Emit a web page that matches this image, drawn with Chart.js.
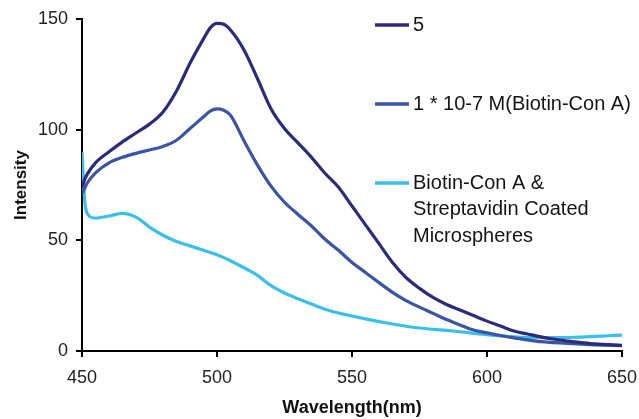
<!DOCTYPE html>
<html>
<head>
<meta charset="utf-8">
<script src="https://cdn.jsdelivr.net/npm/chart.js@4/dist/chart.umd.min.js"></script>
<style>
  html, body { margin: 0; padding: 0; background: #fff; }
  #wrap { width: 639px; height: 419px; }
</style>
</head>
<body>
<div id="wrap"><canvas id="spectrum"></canvas></div>
<script>
// wavelength (nm)
const wavelengths = [450, 451, 452, 455, 460, 465, 470, 475, 480, 485, 490, 495, 497.5, 500, 502.5, 505, 510, 515, 520,
  525, 530, 535, 540, 545, 550, 555, 560, 565, 570, 575, 580, 585, 590, 595, 600, 605, 610, 615, 620,
  625, 630, 635, 640, 645, 650];

// intensity
const series5 = [74, 77.5, 80, 85, 90, 94.5, 98.5, 102.5, 108, 117.5, 130, 141, 146, 148, 147.6, 145, 136, 123, 109.5,
  100.5, 94, 87.5, 80.3, 74, 65.5, 57, 48.5, 40, 33.2, 28.3, 24.2, 21, 18.5, 16, 13.5, 11.3, 9, 7.7, 6.4,
  5.3, 4.5, 3.8, 3.2, 2.9, 2.5];
const seriesBiotin = [71, 73.5, 76, 80.5, 85, 87.5, 89.3, 90.8, 92.4, 95.2, 100.5, 105.8, 108.4, 109.4, 108.8, 106.5, 95, 84, 74.5,
  67.2, 61.7, 56.5, 50.5, 45.5, 40, 35.5, 30.9, 26.5, 22.8, 19.8, 17, 14.2, 11.8, 9.5, 8.2, 7, 5.9, 5, 4.2,
  3.8, 3.4, 3.1, 2.8, 2.6, 2.4];
const seriesMicro = [90, 68, 62, 60, 61, 62.2, 60.5, 56, 52.3, 49.5, 47.5, 45.5, 44.5, 43.5, 42.2, 40.8, 37.6, 34.2, 29.5,
  26.2, 23.6, 21.2, 18.9, 17.2, 15.8, 14.5, 13.3, 12.2, 11.2, 10.4, 9.8, 9.3, 8.7, 8, 7.4, 6.8, 6.4, 6.1, 6,
  6, 6.1, 6.3, 6.6, 6.9, 7.2];

const seriesLabels = [["5"], ["1 * 10-7 M(Biotin-Con A)"], ["Biotin-Con A &", "Streptavidin Coated", "Microspheres"]];
const seriesColors = ["#2b2b79", "#3c54a4", "#38c0eb"];

const xTicks = [450, 500, 550, 600, 650];
const yTicks = [0, 50, 100, 150];

function toPoints(values) {
  return values.map(function (v, i) {
    return { x: wavelengths[i], y: v };
  });
}

const allSeries = [series5, seriesBiotin, seriesMicro];

// legend drawn inside the plot, to the right
const insideLegend = {
  id: "insideLegend",
  afterDraw(chart) {
    const ctx = chart.ctx;
    const rowTops = [25, 104, 183];
    ctx.save();
    ctx.font = "20px 'Liberation Sans', Arial, sans-serif";
    ctx.textBaseline = "middle";
    ctx.fillStyle = "#141414";
    for (let i = 0; i < seriesLabels.length; i++) {
      ctx.strokeStyle = seriesColors[i];
      ctx.lineWidth = 3.5;
      ctx.beginPath();
      ctx.moveTo(375, rowTops[i]);
      ctx.lineTo(409, rowTops[i]);
      ctx.stroke();
      seriesLabels[i].forEach(function (line, j) {
        ctx.fillText(line, 413, rowTops[i] + j * 26.5);
      });
    }
    ctx.restore();
  },
};

const ctx = document.getElementById("spectrum").getContext("2d");
new Chart(ctx, {
  type: "line",
  data: {
    datasets: allSeries.map(function (vals, i) {
      return {
        label: seriesLabels[i].join(" "),
        data: toPoints(vals),
        borderColor: seriesColors[i],
        borderWidth: 3.2,
        pointRadius: 0,
        cubicInterpolationMode: "monotone",
        fill: false,
      };
    }),
  },
  options: {
    responsive: true,
    maintainAspectRatio: false,
    animation: false,
    layout: { padding: { left: 0, right: 17, top: 19, bottom: 0 } },
    plugins: {
      legend: { display: false },
      tooltip: { enabled: false },
    },
    scales: {
      x: {
        type: "linear",
        min: 450,
        max: 650,
        afterBuildTicks: function (scale) {
          scale.ticks = xTicks.map(function (v) { return { value: v }; });
        },
        afterFit: function (scale) {
          scale.height = 68;
          scale.paddingLeft = 0;
          scale.paddingRight = 0;
        },
        grid: { drawOnChartArea: false, drawTicks: true, tickLength: 6, color: "#000", lineWidth: 2 },
        border: { color: "#000", width: 2 },
        ticks: {
          color: "#222",
          padding: 10,
          font: { family: "'Liberation Sans', Arial, sans-serif", size: 18 },
        },
        title: {
          display: true,
          text: "Wavelength(nm)",
          color: "#111",
          padding: { top: 0, bottom: 0 },
          font: { family: "'Liberation Sans', Arial, sans-serif", size: 18, weight: "bold" },
        },
      },
      y: {
        min: 0,
        max: 150,
        afterBuildTicks: function (scale) {
          scale.ticks = yTicks.map(function (v) { return { value: v }; });
        },
        afterFit: function (scale) {
          scale.width = 82;
          scale.paddingTop = 0;
          scale.paddingBottom = 0;
        },
        grid: { drawOnChartArea: false, drawTicks: true, tickLength: 6, color: "#000", lineWidth: 2 },
        border: { color: "#000", width: 2 },
        ticks: {
          color: "#222",
          padding: 8,
          font: { family: "'Liberation Sans', Arial, sans-serif", size: 18 },
        },
        title: {
          display: true,
          text: "Intensity",
          color: "#111",
          padding: { top: 11, bottom: 0 },
          font: { family: "'Liberation Sans', Arial, sans-serif", size: 17, weight: "bold" },
        },
      },
    },
  },
  plugins: [insideLegend],
});
</script>
</body>
</html>
